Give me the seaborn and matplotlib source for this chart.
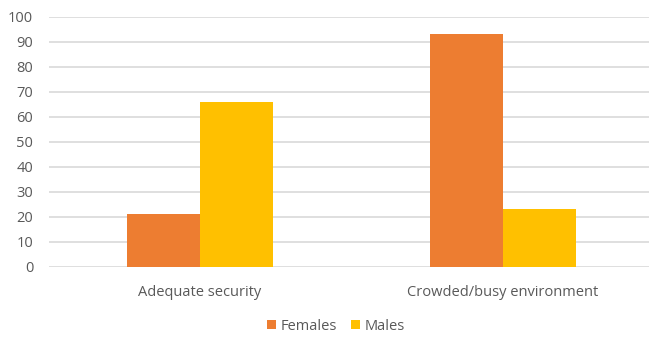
import matplotlib
matplotlib.use("Agg")
import matplotlib.pyplot as plt
import seaborn as sns
import pandas as pd

categories = ["Adequate security", "Crowded/busy environment"]
females = [21, 93]
males = [66, 23]
series_names = ["Females", "Males"]
colors = ["#ED7D31", "#FFC000"]

df = pd.DataFrame({
    "category": categories * 2,
    "value": females + males,
    "series": [series_names[0]] * len(categories) + [series_names[1]] * len(categories),
})

sns.set_theme(style="white")
plt.rcParams["font.family"] = ["Open Sans", "DejaVu Sans"]

W, H = 649, 338
fig = plt.figure(figsize=(W / 100, H / 100), dpi=100)
left_px, bottom_px, top_px = 48.5, 266.7, 16.7
ax = fig.add_axes([left_px / W, (H - bottom_px) / H, (W - left_px) / W, (bottom_px - top_px) / H])

sns.barplot(data=df, x="category", y="value", hue="series", palette=colors,
            width=0.48, ax=ax, saturation=1, legend=True, edgecolor="none")

ax.set_xlim(-0.5, -0.5 + (W - left_px) / 303)
ax.set_ylim(0, 100)
ax.set_yticks(range(0, 101, 10))
ax.yaxis.grid(True, color="#D9D9D9", linewidth=1.2)
ax.set_axisbelow(True)
for s in ax.spines.values():
    s.set_visible(False)
ax.set_xlabel("")
ax.set_ylabel("")
ax.tick_params(axis="y", length=0, pad=11, labelsize=10.5, labelcolor="#595959")
ax.tick_params(axis="x", length=0, pad=13, labelsize=10.5, labelcolor="#595959")

h, l = ax.get_legend_handles_labels()
ax.get_legend().remove()
fig.legend(h, l, loc="center", bbox_to_anchor=(336 / W, (H - 326) / H), ncol=2, frameon=False,
           fontsize=10.5, handlelength=0.6, handleheight=0.6, handletextpad=0.3, columnspacing=1.0,
           labelcolor="#595959")

fig.savefig("out.png", dpi=100)
